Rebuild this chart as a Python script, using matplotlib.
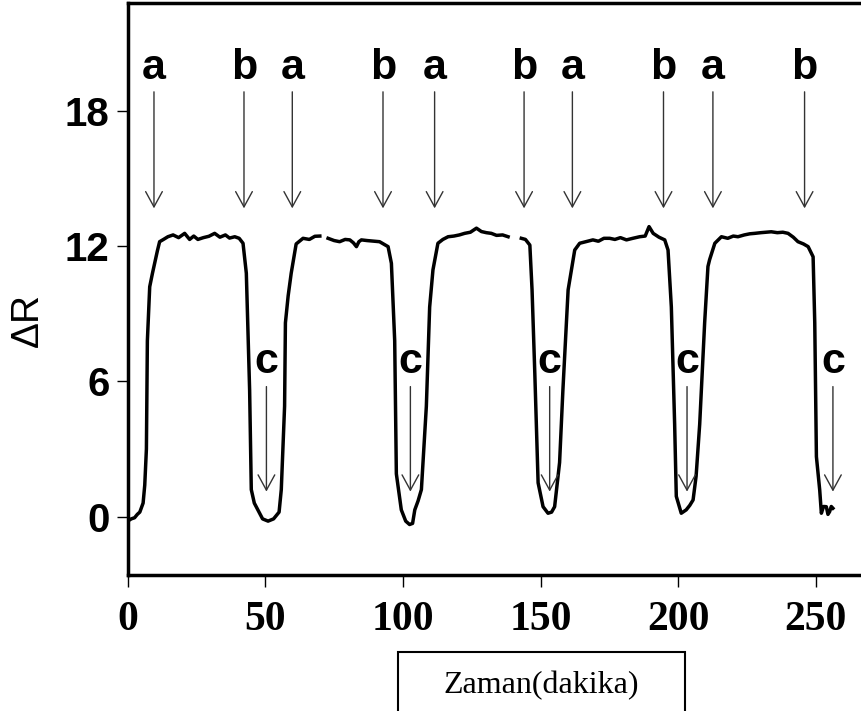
import numpy as np
import matplotlib
matplotlib.use('Agg')
import matplotlib.pyplot as plt
from matplotlib.patches import Rectangle

# sensor response, NaN = gap in the trace
t = [0.0, 1.3, 2.5, 3.5, 4.4, 5.6, 6.2, 6.8, 7.15, 8.0, 9.0, 9.8, 10.8, 11.6, 13.0, 14.6, 16.5, 18.5, 20.7, 22.5, 24.0,
     25.5, 27.5, 29.5, 31.6, 33.5, 35.5, 37.0, 38.9, 40.5, 41.9, 43.1, 44.3, 44.9, 46.0, 47.3, 49.0, 51.0,
     53.0, 55.0, 55.8, 57.0, 57.3, 58.3, 59.4, 61.2, 63.7, 66.0, 68.0, 69.8, 70.4, 72.8, 75.0, 77.0, 79.0,
     80.7, 82.0, 83.1, 84.0, 84.9, 87.0, 89.5, 91.5, 94.6, 95.8, 97.0, 97.6, 99.4, 101.0, 102.4, 103.5,
     104.3, 105.5, 106.7, 108.5, 109.7, 110.9, 112.7, 114.5, 116.4, 118.5, 120.5, 122.4, 124.5, 126.7,
     128.5, 130.3, 132.1, 134.0, 136.2, 138.2, 139.4, 143.0, 144.5, 146.1, 146.9, 147.9, 149.1, 150.9,
     152.7, 154.0, 155.1, 156.9, 158.1, 160.0, 162.4, 164.2, 166.5, 169.0, 171.0, 173.0, 175.1, 177.0,
     179.0, 181.2, 183.5, 186.0, 188.0, 189.4, 190.9, 193.0, 195.1, 196.3, 197.5, 198.7, 199.3, 201.1,
     202.9, 204.2, 205.4, 206.5, 207.8, 209.6, 210.8, 211.4, 213.3, 215.7, 218.0, 220.0, 221.7, 224.0,
     226.0, 227.8, 230.0, 232.0, 233.8, 236.0, 238.0, 239.9, 241.8, 243.5, 245.5, 247.2, 249.0, 249.6,
     250.2, 251.4, 252.0, 252.8, 253.8, 254.4, 255.0, 255.6, 256.2]
dR = [-0.2, -0.1, -0.05, 0.1, 0.2, 0.6, 1.4, 3.0, 7.8, 10.2, 10.8, 11.25, 11.8, 12.2, 12.3, 12.42, 12.5, 12.38, 12.57, 12.3, 12.45,
      12.3, 12.38, 12.44, 12.57, 12.4, 12.5, 12.36, 12.42, 12.35, 12.13, 10.8, 5.6, 1.2, 0.6, 0.3, -0.1, -0.2,
      -0.1, 0.2, 1.2, 4.9, 8.6, 9.8, 10.8, 12.1, 12.35, 12.3, 12.44, 12.45, np.nan, 12.35, 12.25, 12.2, 12.3,
      12.28, 12.15, 11.98, 12.2, 12.28, 12.25, 12.22, 12.2, 11.98, 11.24, 7.8, 1.9, 0.3, -0.2, -0.35, -0.3,
      0.3, 0.7, 1.2, 4.9, 9.3, 10.95, 12.13, 12.3, 12.42, 12.45, 12.5, 12.57, 12.62, 12.8,
      12.65, 12.6, 12.57, 12.48, 12.5, 12.42, np.nan, 12.35, 12.3, 12.05, 10.06, 6.36, 1.5, 0.44,
      0.15, 0.2, 0.44, 2.4, 5.6, 10.06, 11.83, 12.13, 12.2, 12.28, 12.22, 12.35, 12.35, 12.3,
      12.38, 12.28, 12.35, 12.42, 12.45, 12.87, 12.57, 12.4, 12.28, 11.83, 9.3, 4.1, 0.9, 0.15,
      0.3, 0.5, 0.74, 1.8, 4.1, 8.6, 11.1, 11.4, 12.13, 12.42, 12.35, 12.45, 12.42, 12.5,
      12.55, 12.57, 12.6, 12.62, 12.64, 12.6, 12.62, 12.57, 12.4, 12.2, 12.1, 11.98, 11.53, 8.6,
      2.66, 1.18, 0.15, 0.45, 0.44, 0.1, 0.22, 0.45, 0.37]

# arrow positions
a_x = [9.55, 59.8, 111.5, 161.55, 212.6]
b_x = [42.25, 92.75, 144.0, 194.65, 245.9]
c_x = [50.4, 102.7, 153.3, 203.2, 256.2]
x_ticks = [0, 50, 100, 150, 200, 250]
y_ticks = [0, 6, 12, 18]

sans = ['Liberation Sans', 'DejaVu Sans']
serif = ['Liberation Serif', 'DejaVu Serif']

fig = plt.figure(figsize=(8.61, 7.11), dpi=100)
ax = fig.add_axes([0.1483, 0.1913, 0.8517, 0.8041])

ax.plot(t, dR, color='black', lw=2.5, solid_joinstyle='round')

ax.set_xlim(0, 266.4)
ax.set_ylim(-2.59, 22.78)
ax.set_xticks(x_ticks)
ax.set_yticks(y_ticks)
ax.set_xticklabels([str(v) for v in x_ticks], fontfamily=serif, fontweight='bold', fontsize=30)
ax.set_yticklabels([str(v) for v in y_ticks], fontfamily=sans, fontweight='bold', fontsize=29)
ax.tick_params(axis='x', direction='out', length=8.5, width=1.0, pad=10)
ax.tick_params(axis='y', direction='out', length=8, width=1.0, pad=5)
for s in ['left', 'top', 'bottom']:
    ax.spines[s].set_linewidth(2.5)
ax.spines['right'].set_visible(False)

arrow = dict(arrowstyle='->,head_length=1.1,head_width=0.6', color='#333333', lw=1.0,
             mutation_scale=10, shrinkA=0, shrinkB=0)
for x in a_x:
    ax.annotate('', xy=(x, 13.68), xytext=(x, 18.85), arrowprops=arrow)
    ax.text(x, 19.4, 'a', ha='center', va='baseline', fontsize=31, fontweight='bold', fontfamily=sans)
for x in b_x:
    ax.annotate('', xy=(x, 13.68), xytext=(x, 18.85), arrowprops=arrow)
    ax.text(x, 19.4, 'b', ha='center', va='baseline', fontsize=31, fontweight='bold', fontfamily=sans)
for x in c_x:
    ax.annotate('', xy=(x, 1.11), xytext=(x, 5.77), arrowprops=arrow)
    ax.text(x, 6.37, 'c', ha='center', va='baseline', fontsize=31, fontweight='bold', fontfamily=sans)

fig.text(0.0325, 0.55, 'ΔR', rotation=90, ha='center', va='center', fontsize=28, fontfamily=sans)

fig.patches.append(Rectangle((0.4623, -0.01), 0.3333, 0.093, transform=fig.transFigure,
                             fill=False, edgecolor='black', lw=1.5))
fig.text(0.628, 0.0253, 'Zaman(dakika)', ha='center', va='baseline', fontsize=23, fontfamily=serif)

fig.savefig('out.png', dpi=100)
